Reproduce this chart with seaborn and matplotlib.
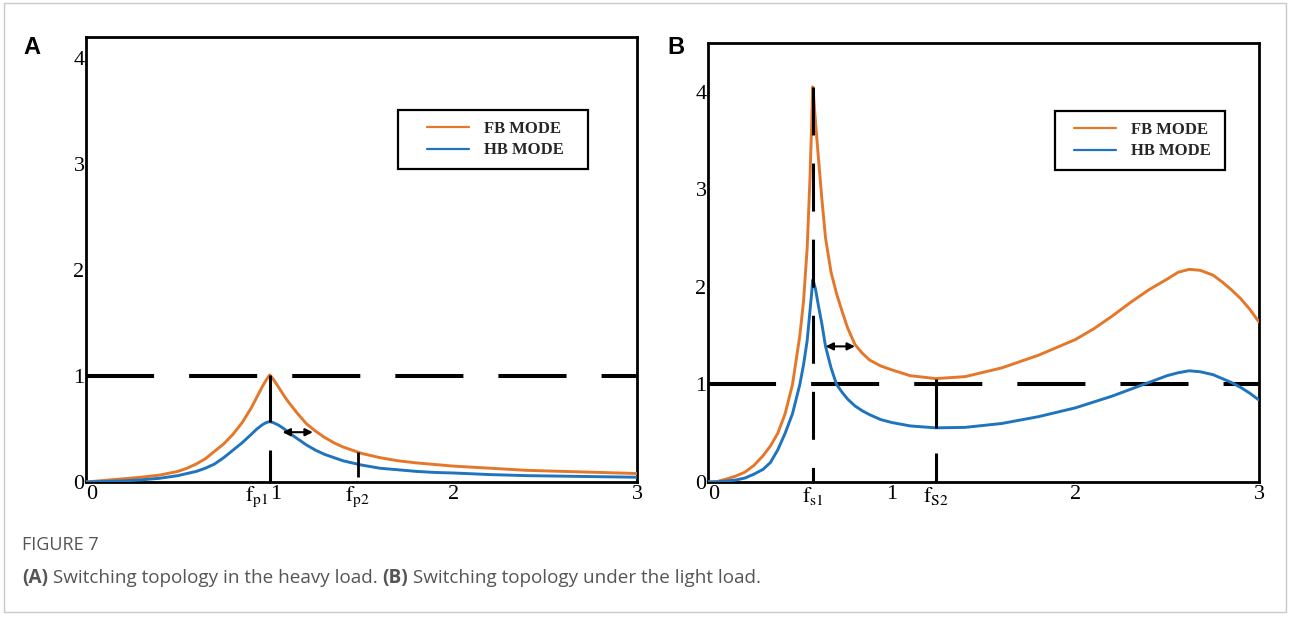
import matplotlib
matplotlib.use("Agg")
import numpy as np
import pandas as pd
import seaborn as sns
import matplotlib.pyplot as plt
from matplotlib.lines import Line2D
from matplotlib.patches import Rectangle

# ---------------- data ----------------
xa = [0, 0.1, 0.2, 0.3, 0.4, 0.5, 0.55, 0.6, 0.65, 0.7,
      0.75, 0.8, 0.85, 0.9, 0.93, 0.96, 0.98, 1.0, 1.02, 1.05,
      1.08, 1.1, 1.15, 1.2, 1.25, 1.3, 1.35, 1.4, 1.5, 1.6,
      1.7, 1.8, 1.9, 2.0, 2.2, 2.4, 2.6, 2.8, 3.0]
fb_a = [0, 0.015, 0.03, 0.045, 0.065, 0.1, 0.13, 0.17, 0.22, 0.29,
        0.36, 0.45, 0.56, 0.7, 0.8, 0.9, 0.96, 1.01, 0.97, 0.89,
        0.81, 0.76, 0.65, 0.55, 0.48, 0.42, 0.37, 0.33, 0.27, 0.23,
        0.2, 0.18, 0.165, 0.15, 0.13, 0.11, 0.1, 0.09, 0.08]
hb_a = [0, 0.005, 0.01, 0.02, 0.035, 0.06, 0.08, 0.1, 0.13, 0.17,
        0.23, 0.3, 0.37, 0.45, 0.5, 0.54, 0.56, 0.57, 0.56, 0.535,
        0.5, 0.47, 0.41, 0.35, 0.3, 0.26, 0.23, 0.2, 0.16, 0.13,
        0.115, 0.1, 0.09, 0.085, 0.07, 0.06, 0.055, 0.05, 0.045]

xb = [0, 0.05, 0.1, 0.15, 0.2, 0.25, 0.3, 0.34, 0.38, 0.42,
      0.46, 0.5, 0.52, 0.54, 0.555, 0.565, 0.57, 0.575, 0.585, 0.6,
      0.62, 0.64, 0.67, 0.7, 0.73, 0.76, 0.8, 0.84, 0.88, 0.94,
      1.0, 1.1, 1.24, 1.4, 1.6, 1.8, 2.0, 2.1, 2.2, 2.3,
      2.4, 2.5, 2.56, 2.62, 2.68, 2.75, 2.8, 2.85, 2.9, 2.95, 3.0]
fb_b = [0, 0.005, 0.03, 0.06, 0.1, 0.17, 0.27, 0.37, 0.5, 0.7,
        1.0, 1.5, 1.85, 2.4, 3.1, 3.7, 4.05, 3.95, 3.7, 3.35,
        2.9, 2.5, 2.15, 1.93, 1.75, 1.58, 1.41, 1.32, 1.25, 1.19,
        1.15, 1.09, 1.06, 1.08, 1.17, 1.3, 1.46, 1.57, 1.7, 1.84,
        1.97, 2.08, 2.15, 2.18, 2.17, 2.12, 2.05, 1.97, 1.88, 1.77, 1.64]
hb_b = [0, 0.002, 0.01, 0.02, 0.04, 0.08, 0.13, 0.2, 0.33, 0.5,
        0.7, 1.0, 1.2, 1.45, 1.75, 1.95, 2.07, 2.05, 1.98, 1.82,
        1.62, 1.39, 1.17, 1.0, 0.92, 0.85, 0.78, 0.73, 0.69, 0.64,
        0.61, 0.575, 0.555, 0.56, 0.6, 0.67, 0.76, 0.82, 0.88, 0.95,
        1.02, 1.09, 1.12, 1.14, 1.13, 1.1, 1.06, 1.02, 0.97, 0.91, 0.84]

modes = ["FB MODE", "HB MODE"]
x_ticks = [0, 1, 2, 3]
x_ticklabels = ["0", "1", "2", "3"]
y_ticks = [0, 1, 2, 3, 4]
y_ticklabels = ["0", "1", "2", "3", "4"]

# characteristic frequencies / annotation values
fp1, fp2 = 1.0, 1.48
fs1, fs2 = 0.57, 1.24
ref_level = 1.0

ORANGE = "#E4772A"
BLUE = "#1F74BD"
palette = {modes[0]: ORANGE, modes[1]: BLUE}

sns.set_theme(style="white")
plt.rcParams["font.family"] = ["Liberation Serif", "DejaVu Serif"]
plt.rcParams["mathtext.fontset"] = "stix"

fig = plt.figure(figsize=(12.9, 6.19), dpi=100)
W, H = 1290, 619


def px_axes(l, t, r, b):
    return [l / W, 1 - b / H, (r - l) / W, (b - t) / H]


axA = fig.add_axes(px_axes(86, 37, 637, 482))
axB = fig.add_axes(px_axes(708, 43, 1259, 482))

DASH = (0, (16.9, 8.7))


def draw_panel(ax, x, fb, hb, ymax):
    n = len(x)
    df = pd.DataFrame({"x": list(x) * 2, "y": list(fb) + list(hb),
                       "mode": [modes[0]] * n + [modes[1]] * n})
    sns.lineplot(data=df, x="x", y="y", hue="mode", palette=palette,
                 estimator=None, linewidth=2.1, legend=False, ax=ax, zorder=3,
                 solid_joinstyle="round")
    ax.axhline(ref_level, color="black", lw=2.9, linestyle=DASH,
               dash_capstyle="butt", zorder=2)
    ax.set_xlim(0, 3)
    ax.set_ylim(0, ymax)
    ax.set_xlabel("")
    ax.set_ylabel("")
    ax.set_xticks(x_ticks)
    ax.set_xticklabels(x_ticklabels)
    ax.set_yticks(y_ticks)
    ax.set_yticklabels(y_ticklabels)
    ax.tick_params(axis="both", direction="in", length=5, width=1.5,
                   colors="black", labelsize=16)
    ax.tick_params(axis="y", pad=1)
    ax.tick_params(axis="x", pad=2)
    for lab in ax.get_xticklabels():
        if lab.get_text() == "0":
            lab.set_ha("left")
    for s in ax.spines.values():
        s.set_visible(True)
        s.set_color("black")
        s.set_linewidth(2)
    ax.set_facecolor("white")


def draw_legend(ax, box):
    x0, y0, x1, y1 = box
    handles = [Line2D([], [], color=ORANGE, lw=1.6),
               Line2D([], [], color=BLUE, lw=1.6)]
    ax.legend(handles, modes, loc="center",
              bbox_to_anchor=((x0 + x1) / 2 + 0.004, (y0 + y1) / 2),
              frameon=False, handlelength=2.5, handletextpad=0.9,
              labelspacing=0.35, borderpad=0.2,
              prop={"family": "Liberation Serif", "weight": "bold", "size": 12})
    ax.add_patch(Rectangle((x0, y0), x1 - x0, y1 - y0, transform=ax.transAxes,
                           fill=False, ec="black", lw=1.6, zorder=6))


def flabel(ax, xv, text, ha, dx=0):
    ax.annotate(text, xy=(xv, 0), xycoords=("data", "axes fraction"),
                xytext=(dx, -2), textcoords="offset points",
                ha=ha, va="top", fontsize=16, color="black")


# ---------------- panel A ----------------
draw_panel(axA, xa, fb_a, hb_a, 4.2)
axA.vlines(fp1, 0.57, 1.01, color="black", lw=2.2, zorder=4)
axA.vlines(fp1, 0.0, 0.30, color="black", lw=2.2, zorder=4)
axA.vlines(fp2, 0.05, 0.28, color="black", lw=2.0, zorder=4)
axA.annotate("", xy=(1.235, 0.47), xytext=(1.07, 0.47),
             arrowprops=dict(arrowstyle="<|-|>", color="black", lw=1.5,
                             mutation_scale=11, shrinkA=0, shrinkB=0), zorder=5)
for lab in axA.get_xticklabels():
    if lab.get_text() == "1":
        lab.set_ha("left")
flabel(axA, fp1, r"$\mathrm{f}_{\mathrm{p1}}$", "right", dx=-1)
flabel(axA, fp2, r"$\mathrm{f}_{\mathrm{p2}}$", "center")
draw_legend(axA, (0.566, 0.703, 0.911, 0.836))

# ---------------- panel B ----------------
draw_panel(axB, xb, fb_b, hb_b, 4.5)
axB.set_xticks([2.5], minor=True)
axB.tick_params(axis="x", which="minor", direction="in", length=5, width=1.5,
                colors="black")
axB.plot([fs1, fs1], [4.05, 0], color="black", lw=2.2,
         linestyle=(0, (15.7, 9.2)), dash_capstyle="butt", zorder=4)
axB.vlines(fs2, 0.555, 1.06, color="black", lw=2.2, zorder=4)
axB.vlines(fs2, 0.0, 0.30, color="black", lw=2.2, zorder=4)
axB.annotate("", xy=(0.80, 1.39), xytext=(0.64, 1.39),
             arrowprops=dict(arrowstyle="<|-|>", color="black", lw=1.5,
                             mutation_scale=11, shrinkA=0, shrinkB=0), zorder=5)
flabel(axB, fs1, r"$\mathrm{f}_{\mathrm{s1}}$", "center")
flabel(axB, fs2, r"$\mathrm{f}_{\mathrm{S2}}$", "center")
draw_legend(axB, (0.63, 0.711, 0.938, 0.845))

# ---------------- panel letters, frame and caption ----------------
for lx, letter in [(32, "A"), (676, "B")]:
    fig.text(lx / W, 1 - 47 / H, letter, fontsize=17, fontweight="bold",
             family=["Liberation Sans", "DejaVu Sans"], ha="center",
             va="center", color="black")

fig.patches.append(Rectangle((4 / W, 1 - 612 / H), 1282 / W, 609 / H,
                             transform=fig.transFigure, fill=False,
                             ec="#c8c8c8", lw=1.0))

cap_font = ["Open Sans", "DejaVu Sans"]
fig.text(22 / W, 1 - 545 / H, "FIGURE 7", fontsize=13, family=cap_font,
         color="#555555", va="center", ha="left")

fig.canvas.draw()
renderer = fig.canvas.get_renderer()
cx = 22 / W
cy = 1 - 578 / H
parts = [("(A)", "bold"), (" Switching topology in the heavy load. ", "normal"),
         ("(B)", "bold"), (" Switching topology under the light load.", "normal")]
for txt, wgt in parts:
    t = fig.text(cx, cy, txt, fontsize=13.6, family=cap_font, fontweight=wgt,
                 color="#555555", va="center", ha="left")
    bb = t.get_window_extent(renderer)
    cx += bb.width / fig.bbox.width

fig.savefig("out.png", dpi=100, facecolor="white")
